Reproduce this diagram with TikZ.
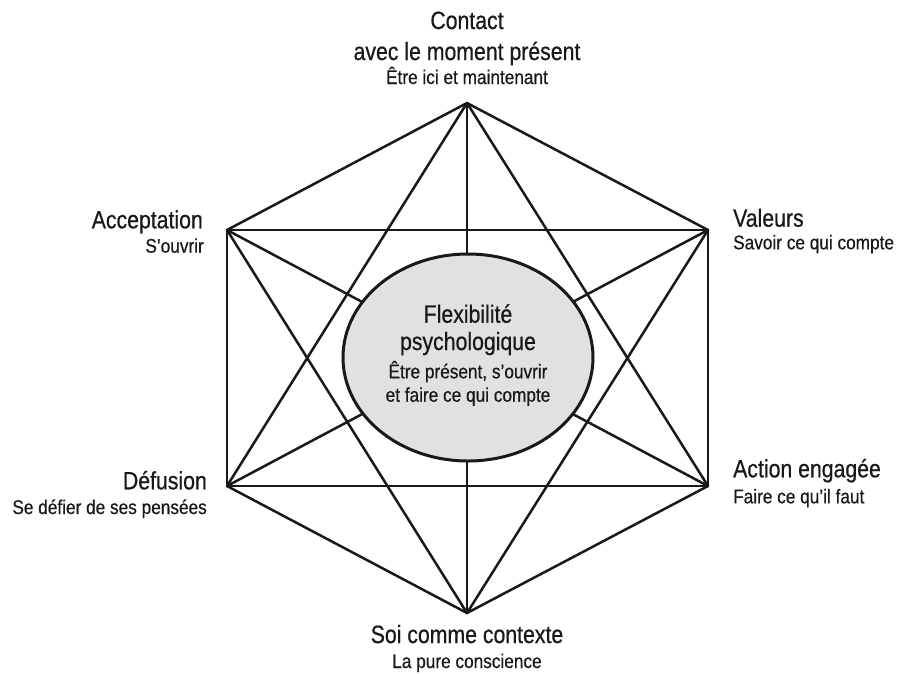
\documentclass[tikz,border=0pt]{standalone}
\usepackage{fontspec}
\setmainfont{Liberation Sans}
\newfontfamily\ttlfont{Liberation Sans}[FakeStretch=0.85,FakeBold=0.6]
\newfontfamily\subfont{Liberation Sans}[FakeStretch=0.87,FakeBold=0.5]
\definecolor{ellfill}{RGB}{225,225,225}
\definecolor{ink}{RGB}{25,25,25}
\begin{document}
\begin{tikzpicture}[x=1pt,y=-1pt,
  edge/.style={draw=ink,line width=2.5pt,line cap=round,line join=round},
  ttl/.style={inner sep=0pt,text=ink,font=\ttlfont\fontsize{25}{27}\selectfont},
  sub/.style={inner sep=0pt,text=ink,font=\subfont\fontsize{19.8}{22}\selectfont}]
\useasboundingbox (0,0) rectangle (902,673);
\coordinate (T) at (467,103);
\coordinate (UL) at (227,230);
\coordinate (UR) at (708,230);
\coordinate (LL) at (227,486);
\coordinate (LR) at (708,486);
\coordinate (B) at (467,613);
% all connections
\foreach \a/\b in {T/UL,T/UR,T/LL,T/LR,T/B,UL/UR,UL/LL,UL/LR,UL/B,UR/LL,UR/LR,UR/B,LL/LR,LL/B,LR/B}
  \draw[edge] (\a) -- (\b);
% central ellipse
\fill[ellfill,draw=ink,line width=3pt] (468,357.5) ellipse [x radius=125, y radius=103.5];
\node[ttl,anchor=base] (c1) at (468,322.7) {Flexibilité};
\node[ttl,anchor=base] (c2) at (468,350) {psychologique};
\node[sub,anchor=base] (c3) at (468,378.3) {Être présent, s’ouvrir};
\node[sub,anchor=base] (c4) at (468,401.7) {et faire ce qui compte};
% top
\node[ttl,anchor=base] (t1) at (467,29) {Contact};
\node[ttl,anchor=base] (t2) at (467,60) {avec le moment présent};
\node[sub,anchor=base] (t3) at (467,84) {Être ici et maintenant};
% upper left
\node[ttl,anchor=base east] (ul1) at (203,228.3) {Acceptation};
\node[sub,anchor=base east] (ul2) at (204,252.7) {S’ouvrir};
% upper right
\node[ttl,anchor=base west] (ur1) at (733,226.7) {Valeurs};
\node[sub,anchor=base west] (ur2) at (733,249.3) {Savoir ce qui compte};
% lower left
\node[ttl,anchor=base east] (ll1) at (207,489.3) {Défusion};
\node[sub,anchor=base east] (ll2) at (207,514) {Se défier de ses pensées};
% lower right
\node[ttl,anchor=base west] (lr1) at (733,477.3) {Action engagée};
\node[sub,anchor=base west] (lr2) at (733,503.3) {Faire ce qu’il faut};
% bottom
\node[ttl,anchor=base] (b1) at (467,643) {Soi comme contexte};
\node[sub,anchor=base] (b2) at (467,668) {La pure conscience};
\end{tikzpicture}
\end{document}
